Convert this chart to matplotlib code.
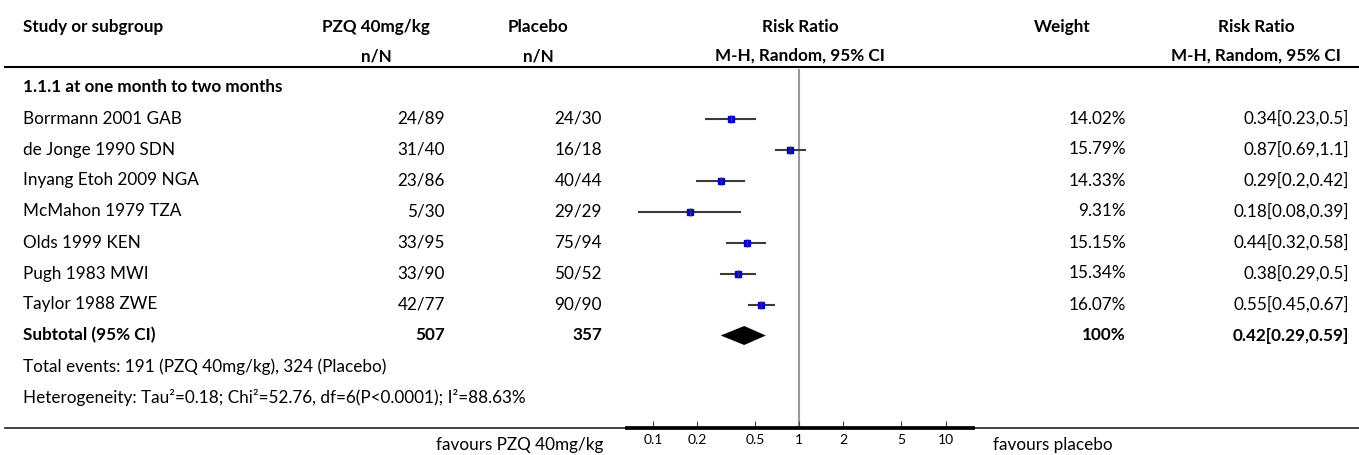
import matplotlib.pyplot as plt
import numpy as np

studies = ["Borrmann 2001 GAB", "de Jonge 1990 SDN", "Inyang Etoh 2009 NGA",
           "McMahon 1979 TZA", "Olds 1999 KEN", "Pugh 1983 MWI", "Taylor 1988 ZWE"]
pzq_events = [24, 31, 23, 5, 33, 33, 42]
pzq_total = [89, 40, 86, 30, 95, 90, 77]
plc_events = [24, 16, 40, 29, 75, 50, 90]
plc_total = [30, 18, 44, 29, 94, 52, 90]
weights = [14.02, 15.79, 14.33, 9.31, 15.15, 15.34, 16.07]
rr = [0.34, 0.87, 0.29, 0.18, 0.44, 0.38, 0.55]
ci_lo = [0.23, 0.69, 0.2, 0.08, 0.32, 0.29, 0.45]
ci_hi = [0.5, 1.1, 0.42, 0.39, 0.58, 0.5, 0.67]

sub_pzq_total = 507
sub_plc_total = 357
sub_weight = 100
sub_rr, sub_lo, sub_hi = 0.42, 0.29, 0.59
events_text = "Total events: 191 (PZQ 40mg/kg), 324 (Placebo)"
het_text = "Heterogeneity: Tau²=0.18; Chi²=52.76, df=6(P<0.0001); I²=88.63%"
subgroup_title = "1.1.1 at one month to two months"

tick_vals = [0.1, 0.2, 0.5, 1, 2, 5, 10]
tick_labels = ["0.1", "0.2", "0.5", "1", "2", "5", "10"]

plt.rcParams['font.family'] = ['Lato', 'DejaVu Sans']
FS = 12.3

W, H = 1359, 455
fig = plt.figure(figsize=(W / 100, H / 100), dpi=100)

# text layer in pixel coordinates
tx = fig.add_axes([0, 0, 1, 1])
tx.set_xlim(0, W)
tx.set_ylim(H, 0)
tx.axis("off")

row0 = 87.5
step = 31
rows = [row0 + step * (i + 1) for i in range(len(studies))]
sub_y = row0 + step * 8
ev_y = row0 + step * 9
het_y = row0 + step * 10
hdr1, hdr2 = 27, 56
top_line, bot_line = 67, 428

x_name = 23
x_pzq = 445
x_pzq_hdr = 376
x_plc = 602
x_plc_hdr = 538
x_rr_hdr = 800
x_w_hdr = 1062
x_w = 1126
x_rr2_hdr = 1256
x_rr2 = 1349

def t(x, y, s, ha="left", bold=False, size=FS):
    tx.text(x, y, s, ha=ha, va="center", fontsize=size,
            fontweight="bold" if bold else "normal", color="black")

t(x_name, hdr1, "Study or subgroup", bold=True)
t(x_pzq_hdr, hdr1, "PZQ 40mg/kg", ha="center", bold=True)
t(x_pzq_hdr, hdr2, "n/N", ha="center", bold=True)
t(x_plc_hdr, hdr1, "Placebo", ha="center", bold=True)
t(x_plc_hdr, hdr2, "n/N", ha="center", bold=True)
t(x_rr_hdr, hdr1, "Risk Ratio", ha="center", bold=True)
t(x_rr_hdr, hdr2, "M-H, Random, 95% CI", ha="center", bold=True)
t(x_w_hdr, hdr1, "Weight", ha="center", bold=True)
t(x_rr2_hdr, hdr1, "Risk Ratio", ha="center", bold=True)
t(x_rr2_hdr, hdr2, "M-H, Random, 95% CI", ha="center", bold=True)

t(x_name, row0, subgroup_title, bold=True)
for i, name in enumerate(studies):
    y = rows[i]
    t(x_name, y, name)
    t(x_pzq, y, f"{pzq_events[i]}/{pzq_total[i]}", ha="right")
    t(x_plc, y, f"{plc_events[i]}/{plc_total[i]}", ha="right")
    t(x_w, y, f"{weights[i]:.2f}%", ha="right")
    t(x_rr2, y, f"{rr[i]:g}[{ci_lo[i]:g},{ci_hi[i]:g}]", ha="right")

t(x_name, sub_y, "Subtotal (95% CI)", bold=True)
t(x_pzq, sub_y, str(sub_pzq_total), ha="right", bold=True)
t(x_plc, sub_y, str(sub_plc_total), ha="right", bold=True)
t(x_w, sub_y, f"{sub_weight}%", ha="right", bold=True)
t(x_rr2, sub_y, f"{sub_rr:g}[{sub_lo:g},{sub_hi:g}]", ha="right", bold=True)
t(x_name, ev_y, events_text)
t(x_name, het_y, het_text)

tx.plot([5, W], [top_line, top_line], color="black", lw=1.5)
tx.plot([5, W], [bot_line, bot_line], color="#222222", lw=1.2)

t(603, 445, "favours PZQ 40mg/kg", ha="right")
t(993, 445, "favours placebo")

# forest plot
x0, x1 = 627, 973
fx = fig.add_axes([x0 / W, 0, (x1 - x0) / W, 1])
fx.patch.set_alpha(0)
fx.set_xscale("log")
fx.set_xlim(0.0663, 15.42)
fx.set_ylim(H, 0)

fx.plot([1, 1], [70, bot_line], color="#999999", lw=1.5, zorder=1)

for i in range(len(studies)):
    y = rows[i]
    fx.plot([ci_lo[i], ci_hi[i]], [y, y], color="#3a3a3a", lw=1.5, zorder=2)
    fx.plot([rr[i]], [y], marker="s", ms=4, color="#0000cc", mec="#0000cc", zorder=3)
    fx.plot([rr[i]], [y], marker="|", ms=6, mew=1, color="#333366", zorder=4)

half_h = 9.5
fx.fill([sub_lo, sub_rr, sub_hi, sub_rr],
        [sub_y, sub_y - half_h, sub_y, sub_y + half_h], color="black", lw=0, zorder=3)

for side in ["top", "left", "right"]:
    fx.spines[side].set_visible(False)
fx.spines["bottom"].set_position(("data", bot_line))
fx.spines["bottom"].set_linewidth(2.7)
fx.set_yticks([])
fx.set_xticks(tick_vals)
fx.set_xticklabels(tick_labels)
fx.xaxis.set_minor_locator(plt.NullLocator())
fx.tick_params(axis="x", direction="in", length=5, width=0.8, pad=4,
               labelsize=10, color="#444444")

fig.savefig("out.png", dpi=100)
